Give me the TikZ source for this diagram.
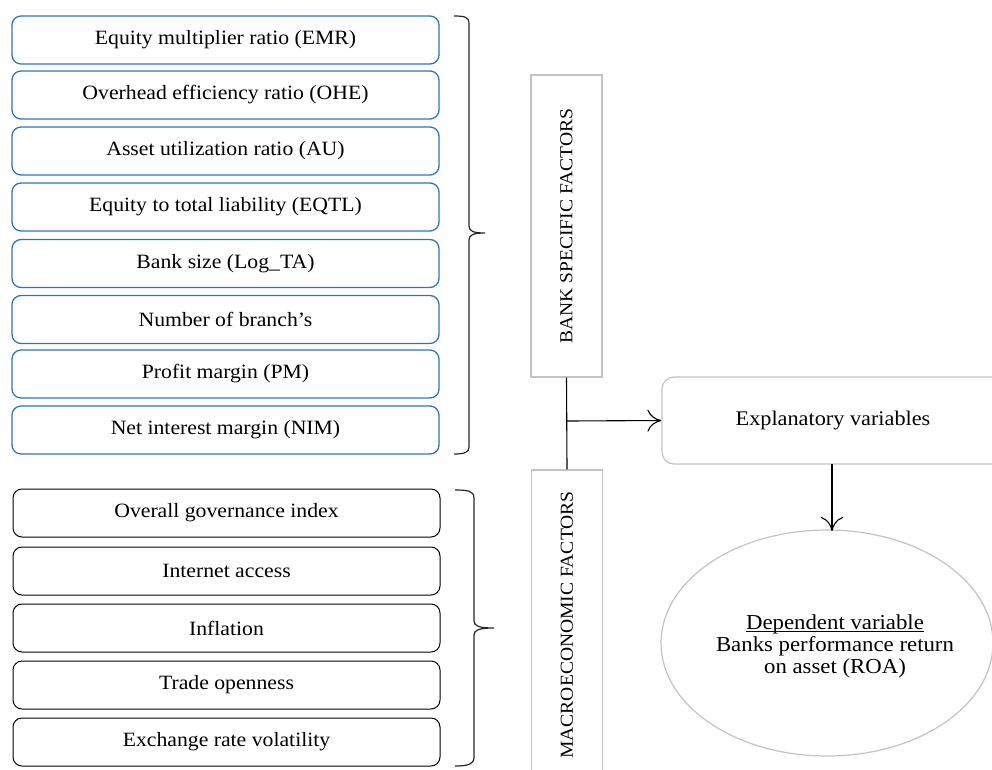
\documentclass[tikz,border=0pt]{standalone}
\usepackage{fontspec}
\setmainfont[FakeStretch=1.07]{Liberation Serif}
\usetikzlibrary{arrows.meta,shapes.geometric}
\definecolor{bbl}{RGB}{46,117,182}
\definecolor{lgr}{RGB}{195,195,195}
\begin{document}
\begin{tikzpicture}[x=1pt,y=-1pt,
  font=\fontsize{20.3}{22}\selectfont,
  bankbox/.style={draw=bbl,line width=1.3pt,rounded corners=9pt,minimum width=427pt,minimum height=48pt,inner sep=0pt},
  macrobox/.style={draw=black,line width=1pt,rounded corners=9pt,minimum width=427pt,minimum height=48pt,inner sep=0pt},
  factorbox/.style={draw=lgr,line width=1.2pt,rotate=90,minimum height=71pt,inner sep=0pt,font=\fontsize{18.3}{22}\selectfont},
  conn/.style={draw=black,line width=1.1pt},
  openarrow/.style={-{To[length=14pt,width=22pt,line width=1.1pt]}},
  bracepath/.style={draw=black!85,line width=1.2pt}]
\useasboundingbox (0,0) rectangle (992,769);
\clip (0,0) rectangle (992,769);

% bank specific factors
\node[bankbox] (b1) at (225.5,40) {Equity multiplier ratio (EMR)};
\node[bankbox] (b2) at (225.5,95) {Overhead efficiency ratio (OHE)};
\node[bankbox] (b3) at (225.5,151) {Asset utilization ratio (AU)};
\node[bankbox] (b4) at (225.5,207) {Equity to total liability (EQTL)};
\node[bankbox] (b5) at (225.5,263.5) {Bank size (Log\_TA)};
\node[bankbox] (b6) at (225.5,319.5) {Number of branch’s};
\node[bankbox] (b7) at (225.5,374) {Profit margin (PM)};
\node[bankbox] (b8) at (225.5,430) {Net interest margin (NIM)};

% macroeconomic factors
\node[macrobox] (m1) at (226.5,513) {Overall governance index};
\node[macrobox] (m2) at (226.5,571) {Internet access};
\node[macrobox] (m3) at (226.5,628) {Inflation};
\node[macrobox] (m4) at (226.5,685) {Trade openness};
\node[macrobox] (m5) at (226.5,742) {Exchange rate volatility};

% braces
\draw[bracepath] (454,16) .. controls (465,16) and (469,17) .. (469,24) -- (469,226)
  .. controls (469,231) and (473,233) .. (485,233)
  .. controls (473,233) and (469,235) .. (469,240) -- (469,447)
  .. controls (469,452) and (465,454) .. (454,454);
\draw[bracepath] (455,490) .. controls (468,490) and (474,491) .. (474,498) -- (474,621)
  .. controls (474,626) and (479,628) .. (494,628)
  .. controls (479,628) and (474,630) .. (474,635) -- (474,758)
  .. controls (474,764) and (468,766) .. (455,766);

% category boxes
\node[factorbox,minimum width=302pt] (bsf) at (566.5,226) {BANK SPECIFIC FACTORS};
\node[factorbox,minimum width=310pt] (mef) at (567,625) {MACROECONOMIC FACTORS};

% explanatory and dependent
\node[draw=lgr,line width=1.2pt,rounded corners=12pt,minimum width=342pt,minimum height=87pt,inner sep=0pt,font=\fontsize{20.8}{22}\selectfont] (exp) at (833,420.5) {Explanatory variables};
\node[draw=lgr,line width=1.2pt,ellipse,minimum width=332pt,minimum height=226pt,inner sep=0pt] (dep) at (827,643) {};
\node[align=center,font=\fontsize{21.3}{22}\selectfont] (deptext) at (835,654) {\underline{\smash{Dependent variable}}\\Banks performance return\\on asset (ROA)};

% connectors
\draw[conn] (bsf.west) -- (mef.east);
\coordinate (j) at (567,421);
\draw[conn,openarrow] (j) -- (exp.west);
\coordinate (es) at (832,464);
\coordinate (dt) at (832,531);
\draw[conn,openarrow] (es) -- (dt);
\end{tikzpicture}
\end{document}
